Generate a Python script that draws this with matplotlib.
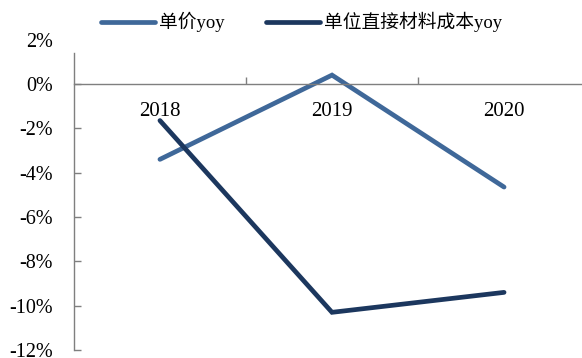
import matplotlib
matplotlib.use("Agg")
import matplotlib.pyplot as plt

plt.rcParams['font.family'] = ['Liberation Serif', 'Noto Sans CJK SC', 'DejaVu Sans']

years = ['2018', '2019', '2020']
price_yoy = [-3.4, 0.4, -4.65]
material_cost_yoy = [-1.65, -10.3, -9.4]
series_names = ['单价yoy', '单位直接材料成本yoy']
y_ticks = [2, 0, -2, -4, -6, -8, -10, -12]

fig = plt.figure(figsize=(5.82, 3.58), dpi=100)
ax = fig.add_axes([0.127, 0.0223, 0.873, 0.867])

x = list(range(len(years)))
ax.plot(x, price_yoy, color='#3F6899', lw=3.4, solid_capstyle='round',
        solid_joinstyle='miter', label=series_names[0])
ax.plot(x, material_cost_yoy, color='#1C375E', lw=3.4, solid_capstyle='round',
        solid_joinstyle='miter', label=series_names[1])

ax.set_xlim(-0.5, 2.453)
ax.set_ylim(-12, 2)

axis_grey = '#7F7F7F'
for s in ['top', 'right']:
    ax.spines[s].set_visible(False)
ax.spines['left'].set_color(axis_grey)
ax.spines['left'].set_linewidth(1.0)
ax.spines['left'].set_bounds(-12, 1.4)
ax.spines['bottom'].set_position(('data', 0))
ax.spines['bottom'].set_color(axis_grey)
ax.spines['bottom'].set_linewidth(1.0)

ax.set_yticks(y_ticks)
ax.set_yticklabels([f'{v}%' for v in y_ticks], fontsize=14.5)
ax.tick_params(axis='y', direction='in', length=5, width=1, color=axis_grey, pad=15)
for t in ax.yaxis.get_major_ticks():
    if abs(t.get_loc() - 2) < 1e-9:
        t.tick1line.set_visible(False)

# boundary ticks on the zero line, category names centred between them
ax.set_xticks([0.5, 1.5])
ax.set_xticklabels(['', ''])
ax.set_xticks(x, minor=True)
ax.set_xticklabels(years, minor=True, fontsize=15)
ax.tick_params(axis='x', which='major', direction='in', length=5, width=1, color=axis_grey)
ax.tick_params(axis='x', which='minor', length=0, pad=13)

fig.legend(loc='center', bbox_to_anchor=(0.518, 0.938), ncol=2, frameon=False,
           fontsize=13.5, handlelength=2.9, columnspacing=2.2, handletextpad=0.2)

fig.savefig('out.png', dpi=100)
